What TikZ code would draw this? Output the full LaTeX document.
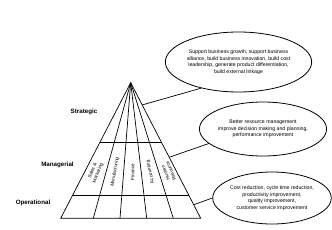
\documentclass[tikz,border=0pt]{standalone}
\usepackage{fontspec}
\setmainfont{Liberation Sans}
\usetikzlibrary{shapes.geometric,calc}

\begin{document}
\begin{tikzpicture}[
  x=1pt, y=-1pt,
  every node/.style={font=\fontsize{5.2}{6.5}\selectfont, inner sep=0pt},
  level/.style={font=\fontsize{6.2}{7}\selectfont\bfseries},
  bubble/.style={draw=black, ellipse, line width=0.8pt, align=center},
  func/.style={align=center, font=\fontsize{4.7}{5.8}\selectfont},
  edge/.style={line width=0.7pt},
  link/.style={line width=0.7pt}
]
  \useasboundingbox (0,0) rectangle (332,230);

  % Pyramid corners
  \coordinate (apex) at (130.7,82.7);
  \coordinate (bl) at (60.7,218.3);
  \coordinate (br) at (200.7,218.3);

  % Outline and functional dividers
  \draw[edge] (bl) -- (apex) -- (br) -- cycle;
  \foreach \bx in {93.3,120,146.7,173.3}
    \draw[edge] (apex) -- (\bx,218.3);

  % Level boundaries
  \draw[edge] ($(apex)!0.442!(bl)$) -- ($(apex)!0.442!(br)$);
  \draw[edge] ($(apex)!0.833!(bl)$) -- ($(apex)!0.833!(br)$);

  % Level names
  \node[level] (strat) at (84,111.5) {Strategic};
  \node[level] (manag) at (57.5,165) {Managerial};
  \node[level] (oper) at (33,203) {Operational};

  % Functional areas
  \node[func, rotate=68] (sales) at (95.3,172) {Sales \&\\Marketing};
  \node[func, rotate=80] (manuf) at (114.9,172) {Manufacturing};
  \node[func, rotate=90] (fin) at (132.6,172) {Finance};
  \node[func, rotate=102] (acct) at (150.3,172) {Accounting};
  \node[func, rotate=112] (hr) at (168.2,172) {Human\\Resource};

  % Benefit bubbles
  \node[bubble, minimum width=113pt, minimum height=60pt] (top) at (238.5,62)
    {Support business growth, support business\\alliance, build business innovation, build cost\\leadership, generate product differentiation,\\build external linkage};
  \node[bubble, minimum width=106pt, minimum height=54pt] (mid) at (263,129)
    {Better resource management\\improve decision making and planning,\\performance improvement};
  \node[bubble, minimum width=118pt, minimum height=52pt] (low) at (272,198)
    {Cost reduction, cycle time reduction,\\productivity improvement,\\quality improvement,\\customer service improvement};

  % Connectors
  \coordinate (s1) at ($(apex)!0.164!(br)$);
  \coordinate (s2) at ($(apex)!0.55!(br)$);
  \coordinate (s3) at ($(apex)!0.9!(br)$);
  \draw[link] (s1) -- (top.215);
  \draw[link] (s2) -- (mid.195);
  \draw[link] (s3) -- (low.west);
\end{tikzpicture}
\end{document}
